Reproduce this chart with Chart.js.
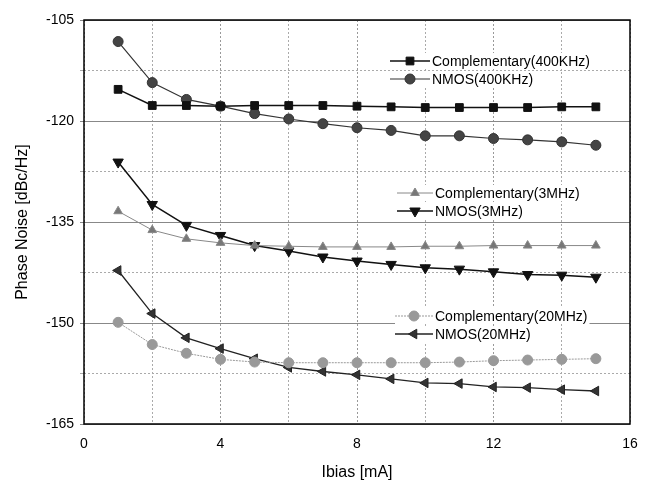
<!DOCTYPE html>
<html>
<head>
<meta charset="utf-8">
<script src="https://cdn.jsdelivr.net/npm/chart.js@4/dist/chart.umd.min.js"></script>
<style>
  html, body { margin: 0; padding: 0; background: #fff; }
  #wrap { width: 651px; height: 486px; }
</style>
</head>
<body>
<div id="wrap"><canvas id="pnChart" width="651" height="486"></canvas></div>
<script>
// Phase noise vs bias current

const ibias = [1, 2, 3, 4, 5, 6, 7, 8, 9, 10, 11, 12, 13, 14, 15];
const comp400k = [-115.3, -117.7, -117.7, -117.8, -117.7, -117.7, -117.7, -117.8, -117.9, -118.0, -118.0, -118.0, -118.0, -117.9, -117.9];
const nmos400k = [-108.2, -114.3, -116.8, -117.8, -118.9, -119.7, -120.4, -121.0, -121.4, -122.2, -122.2, -122.6, -122.8, -123.1, -123.6];
const comp3m = [-133.4, -136.2, -137.5, -138.1, -138.5, -138.6, -138.7, -138.7, -138.7, -138.6, -138.6, -138.5, -138.5, -138.5, -138.5];
const nmos3m = [-126.1, -132.4, -135.5, -137.0, -138.5, -139.3, -140.2, -140.8, -141.3, -141.8, -142.0, -142.4, -142.8, -142.9, -143.2];
const comp20m = [-149.9, -153.2, -154.5, -155.4, -155.8, -155.9, -155.9, -155.9, -155.9, -155.9, -155.8, -155.6, -155.5, -155.4, -155.3];
const nmos20m = [-142.2, -148.6, -152.2, -153.8, -155.3, -156.6, -157.2, -157.7, -158.3, -158.9, -159.0, -159.5, -159.6, -159.9, -160.1];

const xTicks = [0, 4, 8, 12, 16];
const yTicks = [-165, -150, -135, -120, -105];

const FONT = "'Liberation Sans', Arial, sans-serif";

function pts(ys) {
    return ibias.map((x, i) => ({ x: x, y: ys[i] }));
}

function series(label, ys, o) {
    return Object.assign({
        label: label,
        data: pts(ys),
        borderWidth: 1.5,
        pointRadius: 5,
        pointHoverRadius: 5,
        pointBorderWidth: 1,
        pointRotation: 0,
        fill: false,
        tension: 0
    }, o);
}

const datasets = [
    series('Complementary(400KHz)', comp400k, { borderColor: '#111', backgroundColor: '#111', pointStyle: 'rect', pointRadius: 5.5 }),
    series('NMOS(400KHz)', nmos400k, { borderColor: '#333', backgroundColor: '#444', pointStyle: 'circle', borderWidth: 1.2 }),
    series('Complementary(3MHz)', comp3m, { borderColor: '#888', backgroundColor: '#777', pointStyle: 'triangle', borderWidth: 1 }),
    series('NMOS(3MHz)', nmos3m, { borderColor: '#111', backgroundColor: '#111', pointStyle: 'triangle', pointRotation: 180, pointRadius: 6 }),
    series('Complementary(20MHz)', comp20m, { borderColor: '#999', backgroundColor: '#999', pointStyle: 'circle', borderWidth: 1, borderDash: [2, 1] }),
    series('NMOS(20MHz)', nmos20m, { borderColor: '#222', backgroundColor: '#333', pointStyle: 'triangle', pointRotation: -90, pointRadius: 5.5, borderWidth: 1.3 })
];

// legend blocks drawn inside the plot: [dataset index, line x start, line x end, row y]
const legendRows = [
    [0, 390, 430, 61],
    [1, 390, 430, 79],
    [2, 397, 433, 193],
    [3, 397, 433, 211],
    [4, 395, 433, 316],
    [5, 395, 433, 334]
];

const framePlugin = {
    id: 'frame',
    afterDatasetsDraw(chart) {
        const { ctx, chartArea: a } = chart;
        ctx.save();
        ctx.strokeStyle = '#000';
        ctx.lineWidth = 1.5;
        ctx.strokeRect(a.left, a.top, a.right - a.left, a.bottom - a.top);
        ctx.restore();
    },
    afterDraw(chart) {
        const ctx = chart.ctx;
        ctx.save();
        ctx.font = '14px ' + FONT;
        ctx.textBaseline = 'middle';
        ctx.textAlign = 'left';
        legendRows.forEach(([i, x1, x2, y]) => {
            const ds = chart.data.datasets[i];
            const tw = ctx.measureText(ds.label).width;
            ctx.fillStyle = '#fff';
            ctx.fillRect(x1, y - 8, x2 - x1 + tw + 4, 16);
            ctx.strokeStyle = ds.borderColor;
            ctx.lineWidth = ds.borderWidth;
            ctx.setLineDash(ds.borderDash || []);
            ctx.beginPath();
            ctx.moveTo(x1, y);
            ctx.lineTo(x2, y);
            ctx.stroke();
            ctx.setLineDash([]);
            ctx.fillStyle = ds.backgroundColor;
            ctx.strokeStyle = ds.borderColor;
            ctx.lineWidth = 1;
            Chart.helpers.drawPoint(ctx, {
                pointStyle: ds.pointStyle,
                rotation: ds.pointRotation,
                radius: ds.pointRadius,
                borderWidth: 1
            }, (x1 + x2) / 2, y);
            ctx.fillStyle = '#000';
            ctx.fillText(ds.label, x2 + 2, y + 1);
        });
        ctx.restore();
    }
};

new Chart(document.getElementById('pnChart').getContext('2d'), {
    type: 'line',
    data: { datasets: datasets },
    options: {
        responsive: false,
        animation: false,
        layout: { padding: { top: 20, right: 21, left: 13, bottom: 0 } },
        plugins: {
            legend: { display: false },
            tooltip: { enabled: false }
        },
        scales: {
            x: {
                type: 'linear',
                min: 0,
                max: 16,
                afterFit(s) { s.height = 62; },
                afterBuildTicks(s) {
                    s.ticks = [0, 2, 4, 6, 8, 10, 12, 14, 16].map(v => ({ value: v }));
                },
                ticks: {
                    autoSkip: false,
                    maxRotation: 0,
                    padding: 12,
                    color: '#000',
                    font: { family: FONT, size: 14 },
                    callback: v => xTicks.includes(v) ? String(v) : ''
                },
                grid: {
                    drawTicks: false,
                    color: ctx => (ctx.tick && ctx.tick.value % 4 === 0) ? '#999' : '#aaa',
                    lineWidth: 1
                },
                border: { display: false, dash: [2, 2] },
                title: {
                    display: true,
                    text: 'Ibias [mA]',
                    color: '#000',
                    font: { family: FONT, size: 16 },
                    padding: { top: 8, bottom: 4 }
                }
            },
            y: {
                type: 'linear',
                min: -165,
                max: -105,
                afterFit(s) { s.width = 71; },
                afterBuildTicks(s) {
                    const t = [];
                    for (let v = -165; v <= -105; v += 7.5) t.push({ value: v });
                    s.ticks = t;
                },
                ticks: {
                    autoSkip: false,
                    padding: 6,
                    color: '#000',
                    font: { family: FONT, size: 14 },
                    callback: v => yTicks.includes(v) ? String(v) : ''
                },
                grid: {
                    drawTicks: true,
                    tickLength: 4,
                    color: ctx => (ctx.tick && ctx.tick.value % 15 === 0) ? '#888' : '#aaa',
                    lineWidth: 1
                },
                border: {
                    display: false,
                    dash: ctx => (ctx.tick && ctx.tick.value % 15 === 0) ? [] : [2, 2]
                },
                title: {
                    display: true,
                    text: 'Phase Noise [dBc/Hz]',
                    color: '#000',
                    font: { family: FONT, size: 16 },
                    padding: { top: 0, bottom: 6 }
                }
            }
        }
    },
    plugins: [framePlugin]
});
</script>
</body>
</html>
